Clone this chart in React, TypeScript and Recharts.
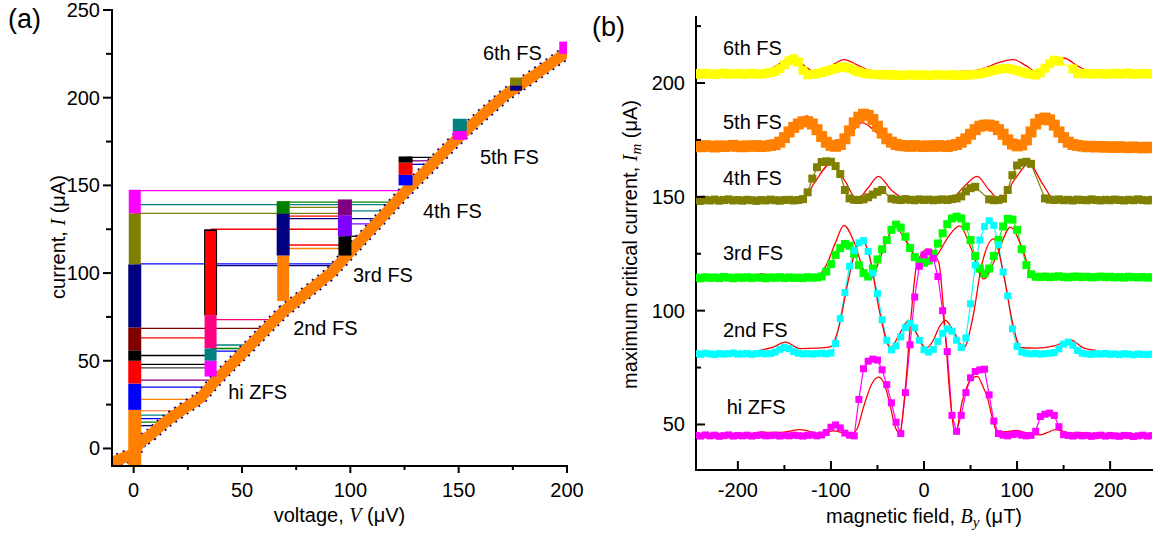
import React from 'react';
import { ComposedChart, Line, XAxis, YAxis, Label, ReferenceDot } from 'recharts';

const SANS = '"Liberation Sans", Arial, Helvetica, sans-serif';
const SERIF = '"Liberation Serif", "Times New Roman", Times, serif';

// ---------------- panel (a): current-voltage characteristics ----------------
// resistive branch (V in µV, I in µA)
const ohmicV = [-10, 0, 3, 8, 15, 23, 31, 38, 46, 54, 61, 69, 80, 91, 102, 114, 125, 137, 148, 160, 172, 184, 192, 200];
const ohmicI = [-8, -3, 3.5, 8, 15.5, 22.5, 29, 39, 49, 59, 68, 78, 89, 100, 115, 131, 146, 161, 175, 189, 202, 212, 219, 226];

// zero-voltage state and Fiske-step branches: voltage and current span of each trace segment
const branchV = [0.5, 0.5, 0.5, 0.5, 0.5, 0.5, 0.5, 0.5, 35.5, 35.5, 35.5, 35.5, 35.5, 69, 69, 69, 97.5, 97.5, 97.5, 125.5, 125.5, 125.5, 150.5, 150.5, 176.5, 176.5, 198.5];
const branchLo = [-10, 22, 37, 50, 56, 69, 105, 134, 76, 76, 57, 50, 41, 84, 110, 134, 110, 121, 133, 150, 156, 163, 176, 181, 204, 207, 225];
const branchHi = [22, 37, 50, 56, 69, 105, 134, 147.5, 125, 124, 76, 57, 50, 110, 134, 141, 121, 133, 142, 156, 163, 166.5, 181, 188, 207, 211.5, 232];
const branchColors = ['#ff8000', '#0000ff', '#ff0000', '#000000', '#800000', '#000080', '#808000', '#ff00ff', '#000000', '#ff0000', '#ff0080', '#008080', '#ff00ff', '#ff8000', '#000080', '#008000', '#000000', '#8000ff', '#800080', '#0000ff', '#ff0000', '#000000', '#ff00ff', '#008080', '#000080', '#808000', '#ff00ff'];
const branchWidths = [13, 13, 13, 13, 13, 13, 12, 12, 13, 11, 12, 12, 12, 12, 13, 13, 13, 14, 14, 14, 14, 14, 14, 14, 12, 12, 9];

// switching events: current at which the junction jumps, start and end voltage
const jumpI = [147, 140.5, 139, 137.5, 135.5, 134, 132.5, 131, 128, 125, 121, 116, 114, 105.3, 104.3, 73.5, 68.5, 63, 59, 57, 55.5, 53, 48, 46, 39, 35, 28, 21.5, 19, 17, 15, 13, 166, 164, 162, 186, 184, 182];
const jumpFrom = [0, 69, 0, 69, 97.5, 0, 69, 69, 97.5, 35.5, 97.5, 69, 69, 0, 35.5, 35.5, 0, 0, 35.5, 35.5, 35.5, 0, 0, 0, 0, 0, 0, 0, 0, 0, 0, 0, 125.5, 125.5, 125.5, 150.5, 150.5, 150.5];
const jumpTo = [126, 121, 120, 97.5, 117, 97.5, 97.5, 114, 112, 97.5, 106.5, 97.5, 97.5, 95, 94, 66, 61.5, 35.5, 54, 52.5, 51, 35.5, 35.5, 35.5, 38, 35, 30, 22, 19.5, 16.5, 14.5, 12.5, 141, 139.5, 138, 157.5, 156, 154];
const jumpColors = ['#ff00ff', '#008000', '#008080', '#808000', '#008080', '#808000', '#ff0000', '#000080', '#8000ff', '#ff0000', '#000000', '#ff0000', '#ff8000', '#0000ff', '#000080', '#ff0080', '#800000', '#ff0000', '#008080', '#008000', '#0000ff', '#000000', '#000000', '#404040', '#800080', '#0000ff', '#ff8000', '#ffa060', '#008080', '#0000ff', '#008000', '#000080', '#000000', '#800080', '#0000ff', '#0000ff', '#008080', '#000080'];

const stepNamesA = ['hi ZFS', '2nd FS', '3rd FS', '4th FS', '5th FS', '6th FS'];
const stepNameVA = [43.6, 73.6, 101.2, 133.5, 159.8, 161.2];
const stepNameIA = [28.4, 64.9, 94.7, 131.6, 162, 221.4];

const vTicks = [0, 25, 50, 75, 100, 125, 150, 175, 200];
const vMajor = [0, 50, 100, 150, 200];
const iTicks = [0, 25, 50, 75, 100, 125, 150, 175, 200, 225, 250];
const iMajor = [0, 50, 100, 150, 200, 250];

// ---------------- panel (b): maximum critical current vs field ----------------
const fieldGrid = [
  -245, -240, -235, -230, -225, -220, -215, -210, -205, -200,
  -195, -190, -185, -180, -175, -170, -165, -160, -155, -150,
  -145, -140, -135, -130, -125, -120, -115, -110, -105, -100,
  -95, -90, -85, -80, -75, -70, -65, -60, -55, -50,
  -45, -40, -35, -30, -25, -20, -15, -10, -5, 0,
  5, 10, 15, 20, 25, 30, 35, 40, 45, 50,
  55, 60, 65, 70, 75, 80, 85, 90, 95, 100,
  105, 110, 115, 120, 125, 130, 135, 140, 145, 150,
  155, 160, 165, 170, 175, 180, 185, 190, 195, 200,
  205, 210, 215, 220, 225, 230, 235, 240, 245,
];

const sixthFS = [
  204.2, 203.8, 204.3, 204.0, 203.7, 204.1, 204.4, 203.9, 204.0, 204.2,
  203.8, 204.0, 204.3, 203.9, 204.0, 204.2, 204.6, 205.2, 206.3, 208.0,
  209.8, 210.6, 209.2, 205.5, 203.6, 203.8, 204.2, 204.6, 205.2, 205.8,
  206.4, 206.9, 207.1, 206.5, 205.6, 204.8, 204.3, 204.0, 203.8, 203.7,
  203.5, 203.7, 203.4, 203.6, 203.3, 203.5, 203.7, 203.4, 203.5, 203.6,
  203.3, 203.5, 203.7, 203.4, 203.5, 203.6, 203.3, 203.5, 203.4, 203.6,
  203.8, 204.0, 204.5, 205.0, 205.6, 206.0, 206.3, 206.4, 206.0, 205.4,
  204.8, 204.3, 203.8, 203.5, 204.5, 206.5, 208.5, 210.0, 209.5, null,
  null, 206.2, 204.2, 204.0, 204.3, 203.9, 204.1, 204.2, 203.8, 204.0,
  204.3, 203.9, 204.1, 204.4, 203.8, 204.0, 204.2, 203.9, 204.1,
];
const fifthFS = [
  172.3, 172.0, 172.5, 172.2, 171.9, 172.4, 172.1, 172.3, 172.6, 172.2,
  172.0, 172.4, 172.2, 172.5, 172.1, 172.3, 172.6, 172.9, 174.0, 176.0,
  178.5, 180.5, 182.0, 183.0, 183.0, 182.0, 179.5, 176.5, 174.0, 172.6,
  172.2, 173.0, 175.5, 179.0, 182.5, 185.0, 186.3, 185.8, 184.0, 181.0,
  178.0, 175.5, 174.0, 173.0, 172.6, 172.4, 172.2, 172.5, 172.3, 172.1,
  172.4, 172.2, 172.5, 172.3, 172.1, 172.6, 173.0, 174.0, 175.5, 177.5,
  179.5, 181.0, 181.5, 181.5, 181.0, 179.5, 177.5, 175.0, 173.2, 172.4,
  172.8, 175.0, 178.5, 182.0, 184.0, 184.6, 183.8, 181.5, 178.5, 176.0,
  174.0, 173.0, 172.6, 172.3, 172.0, 172.2, 171.9, 172.1, 171.8, 172.0,
  171.7, 172.0, 171.8, 171.6, 171.9, 171.7, 171.5, 171.8, 171.6,
];
const fourthFS = [
  148.5, 148.2, 148.7, 148.4, 148.8, 148.3, 148.6, 148.9, 148.4, 148.6,
  148.3, 148.7, 148.5, 148.2, 148.6, 148.4, 148.8, 148.5, 148.3, 148.6,
  148.7, 148.4, 148.6, 149.0, 152.0, 158.0, 163.0, 165.3, 165.6, 165.4,
  163.5, 160.0, 153.0, 149.3, 148.7, 148.6, 148.9, 149.8, 151.0, 152.2,
  153.0, null, 149.2, 148.8, 148.6, 149.0, 148.7, 148.5, 148.9, 148.6,
  148.8, 148.5, 148.7, 148.9, 148.6, 149.0, 149.3, 150.2, 152.4, 153.8,
  154.4, null, null, 148.9, 148.5, 148.6, 149.2, 153.0, 159.5, 163.8,
  165.0, 165.4, 164.5, null, null, 149.3, 148.8, 148.6, 148.9, 148.5,
  148.7, 148.4, 148.8, 148.6, 148.5, 148.9, 148.6, 148.4, 148.7, 148.5,
  148.8, 148.6, 148.4, 148.7, 148.5, 148.9, 148.6, 148.4, 148.7,
];
const thirdFS = [
  114.5, 114.2, 114.7, 114.4, 114.6, 114.3, 114.8, 114.5, 114.2, 114.6,
  114.4, 114.7, 114.3, 114.6, 114.5, 114.2, 114.6, 114.4, 114.7, 114.3,
  114.6, 114.4, 114.5, 114.3, 114.7, 114.5, 114.6, 115.0, 117.2, 120.5,
  124.5, 127.5, 129.3, 128.5, 125.0, 120.0, 116.5, 115.0, 118.5, 122.5,
  127.0, 131.0, 135.5, 137.8, 136.5, 132.5, 127.5, 123.5, 121.5, 121.0,
  122.0, 125.0, 129.5, 134.0, 138.0, 140.5, 141.3, 140.5, 137.0, 131.0,
  124.0, 118.5, 116.3, 118.5, 124.0, 131.0, 137.0, 140.3, 140.0, 135.5,
  127.0, 120.0, 116.0, 114.9, 114.8, 115.0, 114.7, 114.9, 115.1, 114.8,
  114.6, 114.9, 115.0, 114.7, 114.9, 114.6, 114.8, 115.0, 114.7, 114.9,
  114.6, 114.8, 114.5, 114.9, 114.7, 114.6, 114.8, 114.5, 114.7,
];
const secondFS = [
  81.1, 80.8, 81.3, 81.0, 80.7, 81.2, 80.9, 81.1, 81.4, 80.9,
  81.0, 81.2, 80.8, 81.1, 81.3, 81.0, 81.2, 81.8, 83.0, 83.8,
  83.3, 82.0, 81.3, 81.0, 81.2, 80.9, 81.1, 81.3, 81.0, 81.4,
  85.5, 96.5, 108.0, 119.5, 126.4, 129.8, 130.8, 126.0, 116.5, 107.5,
  96.0, 87.0, 82.8, 84.5, 88.5, 92.5, 94.5, 92.5, 87.0, 82.8,
  81.8, 83.0, 86.5, 90.0, 92.0, 91.0, 87.0, 83.8, 88.0, 103.0,
  120.0, 131.0, 137.0, 139.5, 137.5, 129.0, 117.0, 106.5, 92.0, 84.3,
  81.8, 81.3, 81.0, 81.2, 80.9, 81.1, 81.3, 81.6, 83.2, 85.3,
  86.2, 84.8, 82.5, 81.3, 81.0, 80.8, 81.1, 80.9, 81.2, 80.8,
  81.0, 80.7, 81.1, 80.9, 80.6, 81.0, 80.8, 80.7, 80.9,
];
const hiZFS = [
  45.2, 44.9, 45.4, 45.0, 45.3, 44.8, 45.1, 45.4, 44.9, 45.2,
  45.0, 45.3, 44.9, 45.2, 45.4, 45.0, 45.1, 45.3, 44.9, 45.2,
  45.0, 45.3, 45.1, 44.9, 45.2, 45.4, 45.0, 45.4, 46.5, 48.8,
  49.8, 48.5, 46.2, 45.3, 45.0, 61.0, 74.5, 77.8, 78.7, 78.3,
  74.0, 67.5, 59.5, 51.0, 46.0, 64.0, 85.0, 106.0, 119.5, 124.5,
  125.8, 123.0, 115.0, 100.0, 82.0, 54.0, 47.0, 54.0, 64.0, 70.5,
  73.3, 74.0, 74.3, 63.0, 51.5, 46.0, 45.3, 45.0, 45.6, 45.8,
  45.3, 45.0, 45.2, 47.0, 53.5, 54.5, 55.0, 54.0, 49.0, 45.5,
  45.2, 44.9, 45.3, 45.0, 45.2, 44.8, 45.1, 45.3, 44.9, 45.2,
  45.0, 44.8, 45.2, 45.1, 44.7, 45.0, 45.3, 44.9, 45.1,
];

// model curves [B (µT), Im (µA)]
const fitSixth = [[-178, 204.8], [-165, 206], [-155, 208.5], [-142, 211], [-130, 208], [-115, 204.5], [-100, 207.5], [-86, 210.3], [-72, 208], [-60, 205.8], [-50, 205.2], [-30, 205], [0, 205], [30, 205], [50, 205.2], [65, 206.5], [80, 209], [96, 210.3], [110, 207.5], [122, 204.6], [136, 208], [150, 211], [165, 207.5], [178, 205], [185, 204.6]];
const fitFifth = [[-178, 172], [-160, 172.3], [-150, 175], [-140, 180], [-126, 185.5], [-112, 178], [-95.5, 171.8], [-80, 177], [-66.6, 182.6], [-50, 178], [-35, 173.5], [-20, 172.3], [0, 172.2], [30, 172.5], [45, 175], [60, 179.5], [75, 181.6], [90, 177], [102, 172], [115, 178.5], [131, 184.4], [145, 180], [160, 174], [170, 172.3], [185, 172]];
const fitFourth = [[-178, 148.5], [-150, 148.5], [-130, 149], [-118, 156], [-100, 164.6], [-85, 157], [-72, 148.8], [-60, 154], [-49, 159], [-35, 153], [-18, 148.8], [0, 148.6], [28, 148.8], [42, 154], [57, 159], [70, 153], [82, 148.8], [98, 158], [112.8, 164.6], [127, 156], [140, 149], [160, 148.5], [185, 148.4]];
const fitThird = [[-176, 116.3], [-160, 115.5], [-145, 115], [-130, 114.6], [-115, 115], [-105, 120], [-95, 130], [-86, 137.5], [-75, 130], [-65, 118], [-57.7, 114], [-48, 122], [-40, 131], [-31, 136.7], [-20, 131], [-8, 123], [3.3, 120.3], [15, 125], [27, 133], [38.5, 137.2], [50, 128], [64.3, 114], [78, 124], [93, 136.7], [105, 128], [118, 114.3], [140, 114.8], [165, 116.3], [185, 115.6]];
const fitSecond = [[-176, 82.6], [-162, 84], [-149, 86.2], [-133, 83.3], [-115, 83.5], [-100, 84.2], [-92, 92], [-82, 112], [-74, 126], [-66, 131], [-58, 123], [-48, 100], [-36, 83.7], [-26, 90], [-16.5, 95.7], [-8, 90], [2, 83.5], [10, 87], [16, 92.5], [23, 95.7], [33, 90], [42.8, 83.7], [52, 96], [62, 120], [75, 131.5], [86, 115], [95, 95], [104, 83.7], [120, 83.5], [140, 84.5], [157.8, 87], [172, 83.5], [185, 82.5]];
const fitZero = [[-176, 46.7], [-155, 46.5], [-133, 47.7], [-112, 46], [-97, 47.2], [-79, 45.7], [-72, 48], [-65, 57.6], [-56, 67.9], [-48.8, 70.8], [-42, 67], [-36, 57.6], [-31, 49], [-26.2, 46.2], [-20, 66], [-14, 97], [-7.4, 121], [4, 127], [10, 125], [16, 121], [22, 95], [28, 62], [33.8, 46], [41, 60], [50, 69.5], [57.2, 71.1], [64, 66], [68, 62], [73.3, 53], [78.8, 46.6], [88, 46.8], [99, 47.4], [110, 46.3], [124, 45.4], [133, 46.5], [141, 47.7], [158, 46.2], [172, 46.3], [185, 46]];

const stepNamesB = ['6th FS', '5th FS', '4th FS', '3rd FS', '2nd FS', 'hi ZFS'];
const stepNameBB = [-216, -216, -216, -216, -216, -212];
const stepNameIB = [212.2, 180, 155, 122.1, 88.4, 54.7];

const bTicks = [-200, -150, -100, -50, 0, 50, 100, 150, 200];
const bMajor = [-200, -100, 0, 100, 200];
const imTicks = [50, 75, 100, 125, 150, 175, 200, 225];
const imMajor = [50, 100, 150, 200];

// ---------------- rendering helpers ----------------
const curveColors = ['#ffff00', '#ff8000', '#808000', '#00ff00', '#00ffff', '#ff00ff'];
const curveSizes = [9, 11, 8, 8, 7, 7];

type TickCfg = { side: 'bottom' | 'top' | 'left' | 'right'; out: boolean; majors: number[]; major: number; minor: number; gap?: number; label?: boolean };

function renderTick(p: any, cfg: TickCfg) {
  const { x, y, payload, index } = p;
  const v = payload.value;
  const isMajor = cfg.majors.includes(v);
  const len = isMajor ? cfg.major : cfg.minor;
  const s = cfg.out ? 1 : -1;
  let x2 = x, y2 = y, lx = x, ly = y;
  let anchor: 'middle' | 'end' = 'middle';
  if (cfg.side === 'bottom') { y2 = y + s * len; ly = y + (cfg.gap || 0); }
  if (cfg.side === 'top') { y2 = y - s * len; }
  if (cfg.side === 'left') { x2 = x - s * len; lx = x - (cfg.gap || 0); ly = y + 7; anchor = 'end'; }
  if (cfg.side === 'right') { x2 = x + s * len; }
  return (
    <g key={`t-${cfg.side}-${index}`}>
      <line x1={x} y1={y} x2={x2} y2={y2} stroke="#000" strokeWidth={2} />
      {cfg.label && isMajor ? (
        <text x={lx} y={ly} textAnchor={anchor} fontFamily={SANS} fontSize={20} fill="#000">{String(v)}</text>
      ) : null}
    </g>
  );
}

const squareDot = (color: string, size: number) => (p: any) => {
  const { cx, cy, index } = p;
  if (cy == null || cx == null || Number.isNaN(cy)) return <g key={`e-${index}`} />;
  return <rect key={`s-${index}`} x={cx - size / 2} y={cy - size / 2} width={size} height={size} fill={color} />;
};

const textAt = (text: string, anchor: 'start' | 'middle' = 'start') => (p: any) => {
  const vb = p.viewBox || {};
  return (
    <text x={vb.x + (vb.width || 0) / 2} y={vb.y + (vb.height || 0) / 2} textAnchor={anchor} fontFamily={SANS} fontSize={20} fill="#000">{text}</text>
  );
};

const axisLine = { stroke: '#000', strokeWidth: 2, strokeLinecap: 'square' as const };

// assemble series
const ohmicRows = ohmicV.map((v, k) => ({ v, i: ohmicI[k] }));
const branchRows = branchV.map((v, k) => [{ v, i: branchLo[k] }, { v, i: branchHi[k] }]);
const jumpRows = jumpI.map((i, k) => [{ v: jumpFrom[k], i }, { v: jumpTo[k], i }]);

const fieldRows = fieldGrid.map((b, k) => ({
  b,
  s6: sixthFS[k],
  s5: fifthFS[k],
  s4: fourthFS[k],
  s3: thirdFS[k],
  s2: secondFS[k],
  s0: hiZFS[k],
}));
const curveKeys = ['s6', 's5', 's4', 's3', 's2', 's0'];
const fits = [fitSixth, fitFifth, fitFourth, fitThird, fitSecond, fitZero].map((f) => f.map(([b, i]) => ({ b, i })));

function PanelA() {
  return (
    <ComposedChart width={600} height={537} margin={{ top: 10, right: 33, bottom: 0, left: 0 }}>
      <XAxis
        type="number" dataKey="v" domain={[-10, 200]} ticks={vTicks} interval={0} allowDataOverflow
        tickSize={0} tickMargin={0} tickLine={false} axisLine={axisLine} height={71}
        tick={(p: any) => renderTick(p, { side: 'bottom', out: true, majors: vMajor, major: 7, minor: 4, gap: 31, label: true })}
      >
        <Label content={(p: any) => {
          const vb = p.viewBox;
          return (
            <text x={vb.x + vb.width / 2} y={vb.y + 56} textAnchor="middle" fontFamily={SANS} fontSize={20} fill="#000">
              voltage, <tspan fontFamily={SERIF} fontStyle="italic">V</tspan> (μV)
            </text>
          );
        }} />
      </XAxis>
      <XAxis
        xAxisId="top" orientation="top" type="number" dataKey="v" domain={[-10, 200]} ticks={vTicks} interval={0} allowDataOverflow
        tickSize={0} tickMargin={0} tickLine={false} axisLine={axisLine} height={0}
        tick={(p: any) => renderTick(p, { side: 'top', out: false, majors: vMajor, major: 6, minor: 4 })}
      />
      <YAxis
        type="number" domain={[-10, 250]} ticks={iTicks} interval={0} allowDataOverflow
        tickSize={0} tickMargin={0} tickLine={false} axisLine={axisLine} width={112}
        tick={(p: any) => renderTick(p, { side: 'left', out: true, majors: iMajor, major: 9, minor: 6, gap: 12, label: true })}
      >
        <Label content={(p: any) => {
          const vb = p.viewBox;
          const cx = 65;
          const cy = vb.y + vb.height / 2 - 1;
          return (
            <text x={cx} y={cy} transform={`rotate(-90, ${cx}, ${cy})`} textAnchor="middle" fontFamily={SANS} fontSize={20} fill="#000">
              current, <tspan fontFamily={SERIF} fontStyle="italic">I</tspan> (μA)
            </text>
          );
        }} />
      </YAxis>
      <YAxis
        yAxisId="right" orientation="right" type="number" domain={[-10, 250]} ticks={iTicks} interval={0} allowDataOverflow
        tickSize={0} tickMargin={0} tickLine={false} axisLine={axisLine} width={0}
        tick={(p: any) => renderTick(p, { side: 'right', out: false, majors: iMajor, major: 8, minor: 8 })}
      />

      {jumpRows.map((rows, k) => (
        <Line key={`jump-${k}`} data={rows} dataKey="i" type="linear" stroke={jumpColors[k]} strokeWidth={1.3} dot={false} activeDot={false} isAnimationActive={false} />
      ))}
      <Line data={ohmicRows} dataKey="i" type="linear" stroke="#000080" strokeWidth={14} strokeDasharray="2 5" dot={false} activeDot={false} isAnimationActive={false} />
      <Line data={ohmicRows} dataKey="i" type="linear" stroke="#ff8000" strokeWidth={11} strokeLinejoin="round" dot={false} activeDot={false} isAnimationActive={false} />
      {branchRows.map((rows, k) => (
        <Line key={`branch-${k}`} data={rows} dataKey="i" type="linear" stroke={branchColors[k]} strokeWidth={branchWidths[k]} dot={false} activeDot={false} isAnimationActive={false} />
      ))}
      {stepNamesA.map((name, k) => (
        <ReferenceDot key={`na-${k}`} x={stepNameVA[k]} y={stepNameIA[k]} r={0} fill="none" stroke="none" label={textAt(name)} />
      ))}
    </ComposedChart>
  );
}

function PanelB() {
  return (
    <ComposedChart width={558} height={537} margin={{ top: 17, right: 6, bottom: 0, left: 0 }}>
      <XAxis
        type="number" dataKey="b" domain={[-245, 245]} ticks={bTicks} interval={0} allowDataOverflow
        tickSize={0} tickMargin={0} tickLine={false} axisLine={axisLine} height={67}
        tick={(p: any) => renderTick(p, { side: 'bottom', out: false, majors: bMajor, major: 9, minor: 5, gap: 27, label: true })}
      >
        <Label content={(p: any) => {
          const vb = p.viewBox;
          return (
            <text x={vb.x + vb.width / 2} y={vb.y + 53} textAnchor="middle" fontFamily={SANS} fontSize={20} fill="#000">
              magnetic field, <tspan fontFamily={SERIF} fontStyle="italic">B</tspan>
              <tspan fontFamily={SERIF} fontStyle="italic" fontSize={15} dy={4}>y</tspan>
              <tspan dy={-4}> (μT)</tspan>
            </text>
          );
        }} />
      </XAxis>
      <XAxis
        xAxisId="top" orientation="top" type="number" dataKey="b" domain={[-245, 245]} ticks={bTicks} interval={0} allowDataOverflow
        tickSize={0} tickMargin={0} tickLine={false} axisLine={axisLine} height={0}
        tick={(p: any) => renderTick(p, { side: 'top', out: false, majors: bMajor, major: 9, minor: 5 })}
      />
      <YAxis
        type="number" domain={[30, 229]} ticks={imTicks} interval={0} allowDataOverflow
        tickSize={0} tickMargin={0} tickLine={false} axisLine={axisLine} width={96}
        tick={(p: any) => renderTick(p, { side: 'left', out: false, majors: imMajor, major: 9, minor: 5, gap: 11, label: true })}
      >
        <Label content={(p: any) => {
          const vb = p.viewBox;
          const cx = 37;
          const cy = vb.y + vb.height / 2 + 1;
          return (
            <text x={cx} y={cy} transform={`rotate(-90, ${cx}, ${cy})`} textAnchor="middle" fontFamily={SANS} fontSize={20} fill="#000">
              maximum critical current, <tspan fontFamily={SERIF} fontStyle="italic">I</tspan>
              <tspan fontFamily={SERIF} fontStyle="italic" fontSize={15} dy={4}>m</tspan>
              <tspan dy={-4}> (μA)</tspan>
            </text>
          );
        }} />
      </YAxis>
      <YAxis
        yAxisId="right" orientation="right" type="number" domain={[30, 229]} ticks={imTicks} interval={0} allowDataOverflow
        tickSize={0} tickMargin={0} tickLine={false} axisLine={axisLine} width={0}
        tick={(p: any) => renderTick(p, { side: 'right', out: false, majors: imMajor, major: 9, minor: 5 })}
      />

      {curveKeys.map((key, k) => (
        <Line
          key={`curve-${key}`} data={fieldRows} dataKey={key} type="linear" connectNulls
          stroke={curveColors[k]} strokeWidth={1.2}
          dot={squareDot(curveColors[k], curveSizes[k])} activeDot={false} isAnimationActive={false}
        />
      ))}
      {fits.map((rows, k) => (
        <Line key={`fit-${k}`} data={rows} dataKey="i" type="monotone" stroke="#ff0000" strokeWidth={1.3} dot={false} activeDot={false} isAnimationActive={false} />
      ))}
      {stepNamesB.map((name, k) => (
        <ReferenceDot key={`nb-${k}`} x={stepNameBB[k]} y={stepNameIB[k]} r={0} fill="none" stroke="none" label={textAt(name)} />
      ))}
    </ComposedChart>
  );
}

export default function App() {
  return (
    <div style={{ position: 'absolute', left: 0, top: 0, width: 1158, height: 537, background: '#fff', overflow: 'hidden' }}>
      <div style={{ position: 'absolute', left: 0, top: 0 }}>
        <PanelA />
      </div>
      <div style={{ position: 'absolute', left: 600, top: 0 }}>
        <PanelB />
      </div>
      <svg width={1158} height={537} style={{ position: 'absolute', left: 0, top: 0, pointerEvents: 'none' }}>
        <text x={8} y={28} fontFamily={SANS} fontSize={27} fill="#000">(a)</text>
        <text x={592} y={36} fontFamily={SANS} fontSize={27} fill="#000">(b)</text>
      </svg>
    </div>
  );
}
